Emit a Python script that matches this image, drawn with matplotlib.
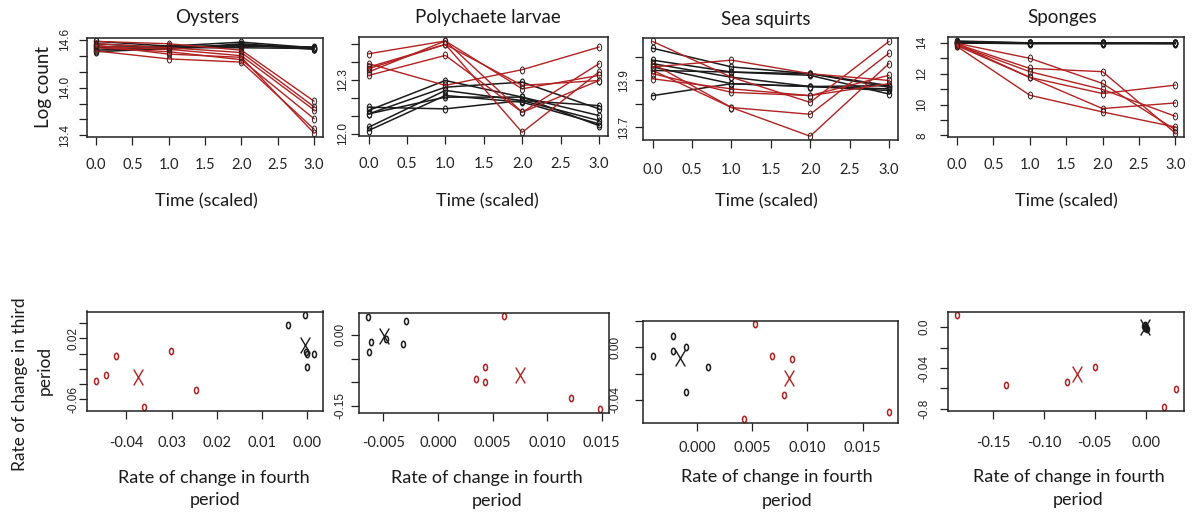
from __future__ import annotations

import matplotlib

matplotlib.use("Agg")
import matplotlib.pyplot as plt
from matplotlib.path import Path
from matplotlib.transforms import Affine2D

W, H = 1193, 517
RED = "#b22222"
BLACK = "#1a1a1a"
TEXT_FONT = ["Lato", "DejaVu Sans"]
TICK_FONT = ["Liberation Sans", "DejaVu Sans"]

# ---- top row: log counts over scaled time --------------------------------
times = [0.0, 1.0, 2.0, 3.0]
time_ticks = [0.0, 0.5, 1.0, 1.5, 2.0, 2.5, 3.0]
time_labels = ["0.0", "0.5", "1.0", "1.5", "2.0", "2.5", "3.0"]

oysters_black = [
    [14.55, 14.50, 14.53, 14.50],
    [14.52, 14.48, 14.55, 14.49],
    [14.58, 14.52, 14.52, 14.51],
    [14.47, 14.50, 14.50, 14.49],
    [14.50, 14.52, 14.57, 14.50],
    [14.45, 14.49, 14.54, 14.48],
]
oysters_red = [
    [14.58, 14.55, 14.47, 13.83],
    [14.55, 14.50, 14.44, 13.76],
    [14.52, 14.48, 14.40, 13.72],
    [14.50, 14.45, 14.35, 13.61],
    [14.46, 14.36, 14.32, 13.48],
    [14.53, 14.42, 14.38, 13.43],
]

poly_black = [
    [12.148, 12.139, 12.185, 12.157],
    [12.130, 12.296, 12.204, 12.102],
    [12.111, 12.259, 12.287, 12.139],
    [12.037, 12.241, 12.185, 12.074],
    [12.019, 12.213, 12.176, 12.056],
    [12.111, 12.204, 12.204, 12.046],
]
poly_red = [
    [12.444, 12.515, 12.120, 12.389],
    [12.389, 12.269, 12.356, 12.481],
    [12.370, 12.496, 12.009, 12.343],
    [12.343, 12.515, 12.250, 12.324],
    [12.324, 12.435, 12.120, 12.296],
    [12.361, 12.496, 12.269, 12.296],
]

squirt_black = [
    [14.038, 13.958, 13.929, 13.878],
    [13.987, 13.936, 13.922, 13.842],
    [13.972, 13.914, 13.874, 13.864],
    [13.958, 13.886, 13.874, 13.878],
    [13.835, 13.886, 13.874, 13.857],
    [13.943, 13.936, 13.929, 13.871],
]
squirt_red = [
    [14.067, 13.914, 13.806, 14.067],
    [13.972, 13.784, 13.661, 13.972],
    [13.943, 13.784, 13.755, 14.016],
    [13.907, 13.864, 13.835, 13.922],
    [13.958, 13.987, 13.929, 13.900],
    [13.929, 13.849, 13.835, 13.886],
]

sponge_black = [
    [14.05, 13.97, 13.95, 13.95],
    [14.00, 13.95, 13.94, 13.93],
    [13.98, 13.93, 13.96, 13.95],
    [14.02, 13.96, 13.93, 13.94],
    [13.96, 13.94, 13.95, 13.96],
    [14.10, 13.98, 13.97, 13.94],
]
sponge_red = [
    [13.95, 12.98, 11.36, 8.37],
    [13.90, 12.33, 12.12, 8.16],
    [13.85, 12.12, 10.97, 9.24],
    [13.80, 11.75, 10.71, 11.25],
    [13.90, 11.75, 9.74, 10.10],
    [13.75, 10.60, 9.52, 8.55],
]

top_titles = ["Oysters", "Polychaete larvae", "Sea squirts", "Sponges"]
top_yticks = [
    [13.4, 13.6, 13.8, 14.0, 14.2, 14.4, 14.6],
    [12.0, 12.1, 12.2, 12.3, 12.4, 12.5],
    [13.7, 13.8, 13.9, 14.0],
    [8, 9, 10, 11, 12, 13, 14],
]
top_ylabels = [
    ["13.4", "", "", "14.0", "", "", "14.6"],
    ["12.0", "", "", "12.3", "", ""],
    ["13.7", "", "13.9", ""],
    ["8", "", "10", "", "12", "", "14"],
]

# ---- bottom row: rate of change, third vs fourth period ------------------
oys_black_x = [-0.0042, -0.0005, -0.0003, 0.0000, 0.0015, 0.0000]
oys_black_y = [0.0368, 0.0500, 0.0017, -0.0005, -0.0004, -0.0180]
oys_red_x = [-0.0467, -0.0445, -0.0422, -0.0362, -0.0301, -0.0246]
oys_red_y = [-0.0364, -0.0276, -0.0026, -0.0702, 0.0030, -0.0480]

poly_black_x = [-0.00639, -0.00614, -0.00630, -0.00295, -0.00325, -0.00477]
poly_black_y = [0.037, -0.0143, -0.0358, 0.030, -0.0193, -0.0092]
poly_red_x = [0.00609, 0.00350, 0.00432, 0.00432, 0.01218, 0.01483]
poly_red_y = [0.039, -0.094, -0.068, -0.100, -0.134, -0.157]

sq_black_x = [-0.00405, -0.00224, -0.00218, -0.00103, -0.00103, 0.00095]
sq_black_y = [-0.0064, 0.0084, -0.0031, 0.0000, -0.0339, -0.0148]
sq_red_x = [0.00525, 0.00682, 0.00858, 0.00791, 0.00425, 0.01736]
sq_red_y = [0.0174, -0.0069, -0.0089, -0.0362, -0.0548, -0.0492]

sp_black_x = [-0.0020, -0.0010, 0.0000, 0.0010, -0.0005, 0.0005]
sp_black_y = [0.0010, -0.0010, 0.0000, -0.0020, 0.0020, -0.0005]
sp_red_x = [-0.186, -0.1378, -0.0778, -0.0499, 0.0183, 0.0295]
sp_red_y = [0.0118, -0.0569, -0.0535, -0.0392, -0.0780, -0.0604]

bottom_xticks = [
    [-0.04, -0.03, -0.02, -0.01, 0.00],
    [-0.005, 0.000, 0.005, 0.010, 0.015],
    [0.000, 0.005, 0.010, 0.015],
    [-0.15, -0.10, -0.05, 0.00],
]
bottom_xlabels = [
    ["-0.04", "0.03", "0.02", "0.01", "0.00"],
    ["-0.005", "0.000", "0.005", "0.010", "0.015"],
    ["0.000", "0.005", "0.010", "0.015"],
    ["-0.15", "-0.10", "-0.05", "0.00"],
]
bottom_yticks = [
    [-0.06, -0.04, -0.02, 0.00, 0.02, 0.04],
    [-0.15, -0.10, -0.05, 0.00],
    [-0.04, -0.02, 0.00, 0.02],
    [-0.08, -0.06, -0.04, -0.02, 0.00],
]
bottom_ylabels = [
    ["-0.06", "", "", "", "0.02", ""],
    ["-0.15", "", "", "0.00"],
    ["-0.04", "", "0.00", ""],
    ["-0.8", "", "-0.04", "", "0.0"],
]

# ---- layout (pixel boxes: left, top, right, bottom) ----------------------
top_boxes = [
    (87.3, 37.7, 322.7, 136.7),
    (359.3, 37.3, 608.2, 136.0),
    (643.3, 37.7, 898.3, 140.0),
    (948.3, 37.3, 1184.0, 136.7),
]
bottom_boxes = [
    (87.3, 311.5, 322.7, 411.0),
    (359.0, 312.7, 609.0, 413.0),
    (643.3, 320.7, 898.0, 423.0),
    (948.0, 311.5, 1184.3, 410.5),
]
top_xpad = [9.6, 9.6, 10.7, 9.6]
top_ypad = [6.5, 1.8, 3.8, 8.8]
bottom_xpad = [12.7, 11.2, 7.6, 13.0]
bottom_ypad = [0.3, 3.8, 10.0, 7.3]

ELLIPSE = Path.unit_circle().transformed(Affine2D().scale(0.62, 1.0))
CROSS = Path(
    [(-0.6, -1.0), (0.6, 1.0), (-0.6, 1.0), (0.6, -1.0)],
    [Path.MOVETO, Path.LINETO, Path.MOVETO, Path.LINETO],
)


def _axes_at(fig, box):
    x0, y0, x1, y1 = box
    return fig.add_axes([x0 / W, 1 - y1 / H, (x1 - x0) / W, (y1 - y0) / H])


def _label(fig, x, y, text, size=12.5, rotation=0):
    fig.text(x / W, 1 - y / H, text, ha="center", va="center", fontsize=size,
             rotation=rotation, family=TEXT_FONT, color="#1a1a1a")


def _finish_axes(ax, xticks, xlabels, yticks, ylabels, xpad, ypad):
    ax.margins(0.04)
    ax.autoscale_view()
    xl, yl = ax.get_xlim(), ax.get_ylim()
    ax.set_xticks(xticks, xlabels)
    ax.set_yticks(yticks, ylabels)
    ax.set_xlim(xl)
    ax.set_ylim(yl)
    ax.tick_params(direction="out", length=5.5, width=0.9, colors="#222222")
    ax.tick_params(axis="x", pad=xpad, labelsize=10.5, labelfontfamily=TEXT_FONT,
                   labelcolor="#222222")
    ax.tick_params(axis="y", pad=ypad, labelsize=8.5, labelrotation=90,
                   labelfontfamily=TICK_FONT, labelcolor="#222222")
    for lab in ax.get_yticklabels():
        lab.set_va("center")
    for sp in ax.spines.values():
        sp.set_linewidth(1.1)
        sp.set_color("#222222")


def _draw_series(ax, black, red):
    for series in black:
        ax.plot(times, series, color=BLACK, lw=1.1, marker=ELLIPSE, ms=5.0,
                mfc="none", mec=BLACK, mew=0.8)
    for series in red:
        ax.plot(times, series, color=RED, lw=1.0, marker=ELLIPSE, ms=5.0,
                mfc="none", mec="#3a1a1a", mew=0.7)


def _draw_scatter(ax, bx, by, rx, ry):
    ax.plot(bx, by, ls="none", marker=ELLIPSE, ms=4.6, mfc="none",
            mec=BLACK, mew=1.1)
    ax.plot(rx, ry, ls="none", marker=ELLIPSE, ms=4.6, mfc="none",
            mec=RED, mew=1.1)
    ax.plot([sum(bx) / len(bx)], [sum(by) / len(by)], ls="none", marker=CROSS,
            ms=11.5, mfc="none", mec=BLACK, mew=1.0)
    ax.plot([sum(rx) / len(rx)], [sum(ry) / len(ry)], ls="none", marker=CROSS,
            ms=11.5, mfc="none", mec=RED, mew=1.0)


fig = plt.figure(figsize=(W / 100, H / 100), dpi=100)

top_data = [
    (oysters_black, oysters_red),
    (poly_black, poly_red),
    (squirt_black, squirt_red),
    (sponge_black, sponge_red),
]
for i, (black, red) in enumerate(top_data):
    ax = _axes_at(fig, top_boxes[i])
    _draw_series(ax, black, red)
    _finish_axes(ax, time_ticks, time_labels, top_yticks[i], top_ylabels[i],
                 top_xpad[i], top_ypad[i])

bottom_data = [
    (oys_black_x, oys_black_y, oys_red_x, oys_red_y),
    (poly_black_x, poly_black_y, poly_red_x, poly_red_y),
    (sq_black_x, sq_black_y, sq_red_x, sq_red_y),
    (sp_black_x, sp_black_y, sp_red_x, sp_red_y),
]
for i, pts in enumerate(bottom_data):
    ax = _axes_at(fig, bottom_boxes[i])
    _draw_scatter(ax, *pts)
    _finish_axes(ax, bottom_xticks[i], bottom_xlabels[i], bottom_yticks[i],
                 bottom_ylabels[i], bottom_xpad[i], bottom_ypad[i])

# titles and axis captions
title_pos = [(207, 18), (487.5, 18), (766, 19), (1062, 18)]
time_pos = [(206.7, 201), (487.5, 201), (766, 201), (1066, 201)]
rate_pos = [(214, 478), (487, 478), (777, 477), (1069, 477)]
period_pos = [(215, 500), (497, 501), (787, 501), (1078, 500)]
for i in range(4):
    _label(fig, *title_pos[i], top_titles[i], size=13.5)
    _label(fig, *time_pos[i], "Time (scaled)", size=13)
    _label(fig, *rate_pos[i], "Rate of change in fourth", size=13)
    _label(fig, *period_pos[i], "period", size=13)

_label(fig, 43, 87, "Log count", size=13.5, rotation=90)
_label(fig, 20, 384, "Rate of change in third", size=12.5, rotation=90)
_label(fig, 45, 370, "period", size=12.5, rotation=90)

fig.savefig("out.png", dpi=100, facecolor="white")
